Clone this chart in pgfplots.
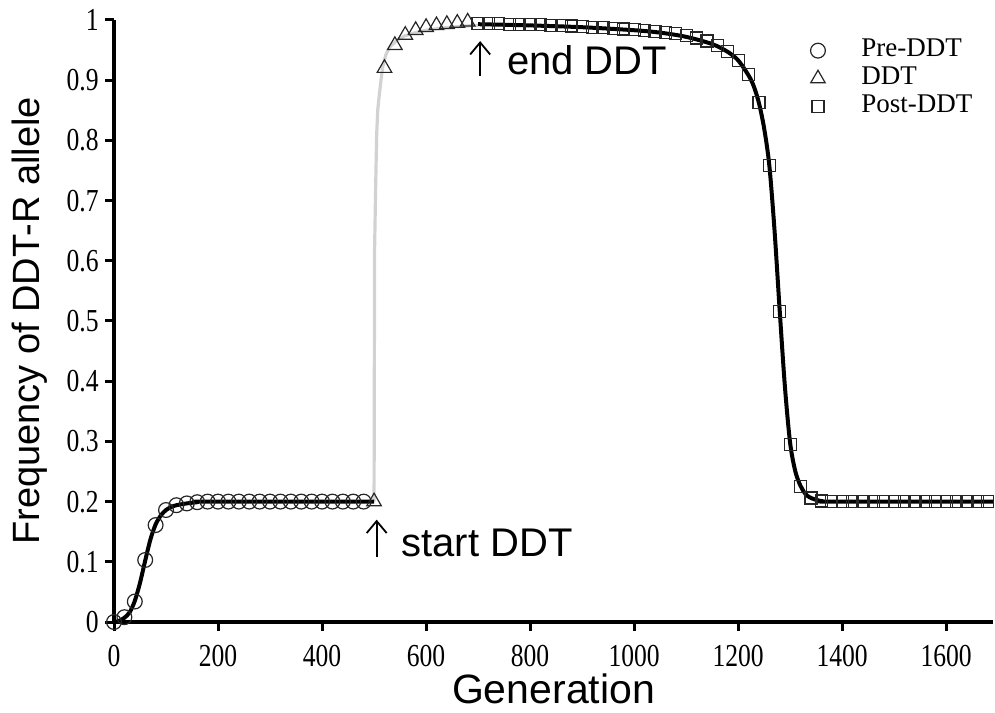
\documentclass[border=0pt]{standalone}
\usepackage{fontspec}
\setmainfont{Liberation Serif}
\newfontfamily\helv{Liberation Sans}
\usepackage{graphicx}
\usepackage{pgfplots}
\pgfplotsset{compat=1.18}
\usetikzlibrary{arrows.meta}
\begin{document}
\begin{tikzpicture}
\begin{axis}[
  scale only axis, width=439.5bp, height=301bp,
  xmin=0, xmax=1690, ymin=0, ymax=1,
  axis lines*=left,
  axis line style={line width=2bp, black},
  clip=false,
  xtick={0,200,400,600,800,1000,1200,1400,1600},
  ytick={0,0.1,0.2,0.3,0.4,0.5,0.6,0.7,0.8,0.9,1},
  tick align=outside, major tick length=4.5bp,
  tick style={line width=1.5bp, black},
  xticklabel={\scalebox{0.8}[1]{\pgfmathprintnumber[assume math mode=true,1000 sep={}]{\tick}}},
  yticklabel={\scalebox{0.8}[1]{\pgfmathprintnumber[fixed,precision=1,assume math mode=true]{\tick}}},
  xticklabel style={font=\fontsize{16bp}{16bp}\selectfont, inner sep=0pt, anchor=north, yshift=-7bp},
  yticklabel style={font=\fontsize{16bp}{16bp}\selectfont, inner sep=0pt, anchor=east, xshift=-3bp},
  xlabel={Generation},
  ylabel={Frequency of DDT-R allele},
  xlabel style={at={(axis description cs:0.5,-0.111)}, anchor=center, inner sep=0pt, font=\helv\fontsize{20.5bp}{20.5bp}\selectfont},
  ylabel style={at={(axis description cs:-0.0956,0.5)}, anchor=center, inner sep=0pt, font=\helv\fontsize{19bp}{19bp}\selectfont},
  legend image code/.code={\draw[#1] plot coordinates {(0bp,0bp)};},
  legend cell align=left,
  legend style={at={(0.792,0.973)}, anchor=north west, draw=none, fill=none, inner sep=0pt,
    font=\fontsize{13.5bp}{13.5bp}\selectfont,
    nodes={text height=9bp, text depth=3bp, inner sep=1bp},
    /tikz/every odd column/.append style={column sep=17bp}},
]
% gray DDT curve
\addplot[gray!35, line width=1.6bp, forget plot] coordinates {
(500,0.2) (500.5,0.4) (501,0.618) (503,0.72) (505,0.809) (507,0.85) (510,0.875)
(514,0.905) (517,0.924) (523,0.943) (530,0.955) (545,0.967) (560,0.974) (580,0.979)
(600,0.983) (625,0.986) (650,0.988) (675,0.990) (700,0.991)};
% pre-DDT curve
\addplot[black, line width=2bp, smooth, forget plot] coordinates {
(0,0) (10,0.002) (20,0.007) (30,0.016) (40,0.035) (50,0.065) (60,0.102) (70,0.137)
(80,0.162) (90,0.177) (100,0.186) (110,0.191) (120,0.194) (140,0.197) (160,0.199)
(180,0.2) (500,0.2)};
% post-DDT curve
\addplot[black, line width=2bp, smooth, forget plot] coordinates {
(700,0.993) (800,0.991) (900,0.988) (1000,0.983) (1050,0.979) (1100,0.972) (1150,0.960)
(1180,0.947) (1200,0.933) (1220,0.908) (1230,0.890) (1240,0.862) (1250,0.820) (1260,0.758)
(1270,0.650) (1280,0.516) (1290,0.390) (1300,0.297) (1310,0.250) (1320,0.226) (1330,0.212)
(1340,0.206) (1350,0.203) (1360,0.201) (1380,0.2) (1690,0.2)};
% markers
\addplot[only marks, mark=o, mark size=3.7bp, draw=black!85, mark options={line width=0.6bp}] coordinates {
(0,0) (20,0.008) (40,0.034) (60,0.103) (80,0.161) (100,0.186) (120,0.194) (140,0.197)
(160,0.199) (180,0.2) (200,0.2) (220,0.2) (240,0.2) (260,0.2) (280,0.2) (300,0.2)
(320,0.2) (340,0.2) (360,0.2) (380,0.2) (400,0.2) (420,0.2) (440,0.2) (460,0.2) (480,0.2)};
\addlegendentry{Pre-DDT}
\addplot[only marks, mark=triangle, mark size=4.2bp, draw=black!85, mark options={line width=0.6bp}] coordinates {
(500,0.2) (520,0.92) (540,0.958) (560,0.975) (580,0.983) (600,0.988) (620,0.991)
(640,0.993) (660,0.995) (680,0.997)};
\addlegendentry{DDT}
\addplot[only marks, mark=square, mark size=3bp, draw=black!85, mark options={line width=0.6bp}] coordinates {
(700,0.994) (720,0.994) (740,0.994) (760,0.993) (780,0.993) (800,0.992) (820,0.992)
(840,0.991) (860,0.991) (880,0.990) (900,0.989) (920,0.988) (940,0.987) (960,0.986)
(980,0.985) (1000,0.984) (1020,0.983) (1040,0.981) (1060,0.979) (1080,0.977) (1100,0.974)
(1120,0.970) (1140,0.965) (1160,0.958) (1180,0.948) (1200,0.933) (1220,0.910) (1240,0.863)
(1260,0.758) (1280,0.516) (1300,0.295) (1320,0.225) (1340,0.206) (1360,0.201) (1380,0.2)
(1400,0.2) (1420,0.2) (1440,0.2) (1460,0.2) (1480,0.2) (1500,0.2) (1520,0.2) (1540,0.2)
(1560,0.2) (1580,0.2) (1600,0.2) (1620,0.2) (1640,0.2) (1660,0.2) (1680,0.2)};
\addlegendentry{Post-DDT}
% annotations
\draw[line width=0.9bp, -{Straight Barb[length=6bp,width=10bp,line width=0.9bp]}]
  (axis cs:505,0.108) -- (axis cs:505,0.170);
\node[anchor=base west, inner sep=0pt, font=\helv\fontsize{20bp}{20bp}\selectfont]
  at (axis cs:552,0.108) {start DDT};
\draw[line width=0.9bp, -{Straight Barb[length=6bp,width=10bp,line width=0.9bp]}]
  (axis cs:704,0.907) -- (axis cs:704,0.965);
\node[anchor=base west, inner sep=0pt, font=\helv\fontsize{20bp}{20bp}\selectfont]
  at (axis cs:755,0.910) {end DDT};
\end{axis}
\pgfresetboundingbox
\path[use as bounding box] ([xshift=-57bp,yshift=-45.5bp]current axis.south west)
  rectangle ([xshift=1bp,yshift=10bp]current axis.north east);
\end{tikzpicture}
\end{document}
